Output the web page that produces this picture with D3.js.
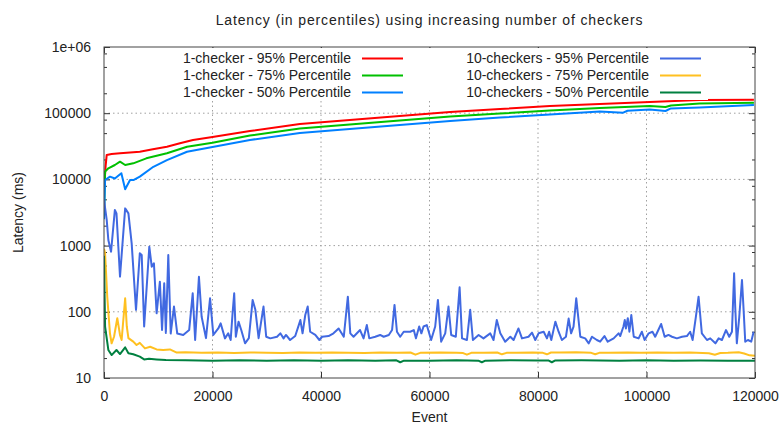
<!DOCTYPE html>
<html>
<head>
<meta charset="utf-8">
<script src="https://cdn.jsdelivr.net/npm/d3@7"></script>
<style>
  body { margin: 0; background: #fff; }
  text { font-family: "Liberation Sans", Arial, sans-serif; fill: #222; }
</style>
</head>
<body>
<div id="chart"></div>
<script>
// ---- data (event, latency in ms) ----
var seriesNames = [
  "1-checker - 95% Percentile", "1-checker - 75% Percentile", "1-checker - 50% Percentile",
  "10-checkers - 95% Percentile", "10-checkers - 75% Percentile", "10-checkers - 50% Percentile"
];
var seriesColors = ["#ff0000", "#00c000", "#0080ff", "#4169e1", "#ffc020", "#008040"];

var one95 = [[0, 7000], [300, 16000], [500, 23400], [1400, 24100], [2950, 24800], [4800, 25500],
  [6600, 26200], [9000, 28500], [11600, 31200], [14000, 35100], [16400, 39400], [20000, 43700],
  [26900, 53800], [36100, 68700], [45300, 78900], [54500, 90700], [63800, 104000], [73000, 115700],
  [82200, 128500], [91400, 137800], [100600, 147500], [109800, 158000], [119800, 160000]];

var one75 = [[0, 3000], [200, 13100], [800, 14700], [2000, 16500], [2950, 18500], [3900, 16500],
  [5400, 17500], [7800, 20800], [11600, 24800], [15300, 31200], [20000, 35800], [26900, 46000],
  [36100, 58800], [45300, 67500], [54500, 77600], [63800, 89200], [73000, 99000], [82200, 110000],
  [91400, 120000], [100600, 128500], [103500, 124000], [104500, 131000], [109800, 140000], [119800, 144000]];

var one50 = [[0, 2500], [200, 9800], [1100, 11000], [2000, 10300], [3200, 12400], [3900, 7080],
  [4800, 9800], [5500, 9800], [6600, 11000], [9100, 15500], [11600, 19600], [15300, 26200],
  [20000, 30800], [26900, 39400], [36100, 50200], [45300, 57700], [54500, 66400], [63800, 76200],
  [73000, 86100], [82200, 95500], [91400, 106000], [95700, 102000], [96500, 109000], [100600, 113700],
  [103500, 108000], [104500, 118000], [109800, 122000], [119800, 133000]];

var ten95 = [[0, 4900], [500, 2440], [800, 1215], [1300, 810], [2000, 3450], [2300, 3070], [2950, 340],
  [3900, 3650], [4500, 3070], [5100, 1080], [5900, 107], [6600, 764], [6950, 721], [7400, 60],
  [8350, 964], [8800, 481], [9200, 540], [9700, 95], [10300, 285], [10700, 53], [11100, 269],
  [11400, 48], [11850, 721], [12300, 47], [12900, 120], [13500, 47], [14600, 44.7], [15700, 53],
  [16350, 190], [16800, 37.5], [17500, 339], [18000, 84], [18800, 40], [19550, 160], [20150, 44.7],
  [21070, 56], [21500, 67], [22300, 39.7], [22900, 47.3], [23350, 37.5], [23700, 95], [24000, 190],
  [24300, 42], [24800, 71], [25300, 53], [26000, 33.4], [26700, 40], [27400, 151], [27900, 107],
  [28500, 40], [29400, 120], [29900, 42], [30650, 39.7], [31900, 42], [32500, 47.3], [33100, 39.7],
  [33550, 44.7], [34300, 37.5], [35250, 43], [36200, 75], [36600, 47.3], [37100, 89.5], [37550, 120],
  [38000, 50], [38950, 44.7], [39700, 37.5], [40200, 42], [41400, 43], [42300, 47.3], [43250, 56],
  [44200, 42], [44950, 169], [45400, 47.3], [46000, 42], [47200, 53], [47850, 39.7], [48450, 63],
  [48900, 39.7], [50000, 42], [50900, 44.7], [51550, 42], [52500, 44.7], [53100, 53], [53550, 127],
  [54000, 50], [54600, 42], [55250, 50], [56450, 50], [57100, 53], [57500, 39.7], [58100, 60],
  [58500, 47.3], [58900, 60], [59500, 63], [60300, 37.5], [61050, 60], [61550, 151], [62150, 35.4],
  [62900, 47.3], [63500, 120], [64000, 44.7], [64850, 42], [65550, 234], [66000, 39.7], [66900, 37.5],
  [67500, 107], [68000, 37.5], [69050, 44.7], [69950, 39.7], [71200, 47.3], [71800, 37.5], [72400, 75],
  [73050, 47.3], [73950, 35.4], [74900, 42], [75500, 37.5], [76400, 56], [77050, 39.7], [78250, 42],
  [78900, 48.4], [79500, 37.5], [80100, 47.3], [81050, 50], [81650, 39.7], [82050, 50], [82450, 37.5],
  [83200, 71], [83800, 50], [84400, 37.5], [85150, 42], [85650, 79], [86100, 47.3], [86550, 59.6],
  [87050, 160], [87800, 42], [88700, 39.7], [89350, 33.4], [89950, 42], [90850, 37.5], [91450, 35.4],
  [92250, 43], [92850, 35.4], [93950, 39.7], [94850, 47.3], [95150, 43], [95750, 60], [96000, 75],
  [96200, 56], [96550, 80], [96850, 50], [97200, 89.5], [97650, 42], [98550, 39.7], [99150, 50],
  [99650, 37.5], [100400, 47.3], [101100, 50], [101600, 42], [102700, 65.5], [103350, 42],
  [104050, 44.7], [104700, 42], [105600, 39.7], [106550, 42], [107450, 43], [108050, 50], [108500, 37.5],
  [109100, 84], [109600, 169], [110200, 47.3], [111150, 37.5], [111750, 39.7], [112700, 33.4],
  [113300, 39.7], [113900, 37.5], [114650, 53], [115250, 42], [115750, 50], [116150, 381], [116350, 120],
  [116650, 33.4], [117100, 84], [117600, 302], [117900, 107], [118200, 35.4], [118700, 37.5],
  [119300, 35.4], [119750, 50]];

var ten75 = [[0, 900], [200, 764], [600, 169], [1100, 47], [1400, 33.4], [1850, 42], [2450, 80],
  [2950, 44.7], [3250, 37.5], [3900, 160], [4200, 60], [4500, 40], [5400, 35.4], [6000, 31.5],
  [6600, 34], [7550, 28], [8500, 29.7], [9700, 27], [10900, 26.5], [12150, 27], [13400, 24.2],
  [15000, 24.5], [18000, 24], [21000, 24.2], [24000, 23.8], [27000, 24.3], [30000, 24], [33000, 23.8],
  [36000, 24.2], [39000, 24], [42000, 24.3], [45000, 24], [48000, 23.8], [51000, 24.2], [54000, 24],
  [56500, 24.3], [57400, 22.5], [58300, 24], [62000, 24.2], [65000, 24], [66200, 23.8], [66900, 22.5],
  [67700, 24], [70000, 24], [72500, 24.3], [73350, 22.8], [74200, 24], [76000, 24], [79000, 24.2],
  [80900, 24], [81650, 22.8], [82400, 24.3], [84000, 24.3], [87000, 24.5], [89800, 24], [90550, 22.8],
  [91300, 24], [93000, 24], [96500, 24.3], [99000, 24], [102000, 24.3], [105000, 24], [108000, 24.2],
  [111500, 23.6], [112600, 22.5], [113600, 23.8], [115000, 24], [117000, 24.5], [118000, 23.5],
  [119000, 22], [120000, 21.7]];

var ten50 = [[0, 700], [200, 59.6], [800, 26.5], [1400, 22.2], [2300, 26.5], [2950, 23], [3900, 29],
  [4500, 23.6], [5400, 22.8], [6600, 21], [7400, 19.1], [8300, 19.5], [9700, 19.1], [11400, 18.7],
  [15000, 18.5], [20000, 18.3], [25000, 18.5], [30000, 18.3], [35000, 18.5], [40000, 18.3],
  [45000, 18.5], [50000, 18.3], [53900, 18.5], [54600, 17.3], [55300, 18.3], [60000, 18.3],
  [65000, 18.5], [69000, 18.3], [69650, 17.3], [70300, 18.3], [75000, 18.5], [80000, 18.4],
  [81900, 18.4], [82550, 17.3], [83200, 18.4], [88000, 18.5], [95000, 18.3], [100000, 18.5],
  [105000, 18.3], [110000, 18.4], [115000, 18.3], [120000, 18.2]];

var allSeries = [one95, one75, one50, ten95, ten75, ten50];

var xTicks = [0, 20000, 40000, 60000, 80000, 100000, 120000];
var yTicks = [10, 100, 1000, 10000, 100000, 1000000];
var yTickLabels = ["10", "100", "1000", "10000", "100000", "1e+06"];
var yMinor = [20, 50, 80, 200, 500, 800, 2000, 5000, 8000, 20000, 50000, 80000, 200000, 500000, 800000];

// ---- layout ----
var W = 779, H = 425;
var margin = {top: 47, right: 24, bottom: 47, left: 104};
var width = W - margin.left - margin.right;
var height = H - margin.top - margin.bottom;

var svg = d3.select("#chart").append("svg")
  .attr("width", W)
  .attr("height", H);

var g = svg.append("g")
  .attr("transform", "translate(" + margin.left + "," + margin.top + ")");

var x = d3.scaleLinear().domain([0, 120000]).range([0, width]);
var y = d3.scaleLog().domain([10, 1000000]).range([height, 0]);

// grid
g.append("g").selectAll("line")
  .data(xTicks.slice(1, -1))
  .enter().append("line")
  .attr("x1", d => x(d)).attr("x2", d => x(d))
  .attr("y1", 0).attr("y2", height)
  .attr("stroke", "#a0a0a0").attr("stroke-dasharray", "1.5,3");

g.append("g").selectAll("line")
  .data(yTicks.slice(1, -1))
  .enter().append("line")
  .attr("y1", d => y(d)).attr("y2", d => y(d))
  .attr("x1", 0).attr("x2", width)
  .attr("stroke", "#a0a0a0").attr("stroke-dasharray", "1.5,3");

// axes (ticks point inward, gnuplot style)
var yAxis = d3.axisLeft(y).tickValues(yTicks)
  .tickFormat((d, i) => yTickLabels[i]).tickSize(-6).tickPadding(13);
var yAxisR = d3.axisRight(y).tickValues(yTicks).tickFormat("").tickSize(-6);
var yMinorL = d3.axisLeft(y).tickValues(yMinor).tickFormat("").tickSize(-3);
var yMinorR = d3.axisRight(y).tickValues(yMinor).tickFormat("").tickSize(-3);
var xAxis = d3.axisBottom(x).tickValues(xTicks).tickFormat(d3.format("d")).tickSize(-6).tickPadding(13);
var xAxisT = d3.axisTop(x).tickValues(xTicks).tickFormat("").tickSize(-6);

function styleAxis(sel) {
  sel.select(".domain").remove();
  sel.selectAll(".tick line").attr("stroke", "#333");
  sel.selectAll(".tick text").style("font-size", "14px").attr("fill", "#222");
}

g.append("g").call(yAxis).call(styleAxis);
g.append("g").attr("transform", "translate(" + width + ",0)").call(yAxisR).call(styleAxis);
g.append("g").call(yMinorL).call(styleAxis);
g.append("g").attr("transform", "translate(" + width + ",0)").call(yMinorR).call(styleAxis);
g.append("g").attr("transform", "translate(0," + height + ")").call(xAxis).call(styleAxis);
g.append("g").call(xAxisT).call(styleAxis);

// series
svg.append("defs").append("clipPath").attr("id", "plotclip")
  .append("rect").attr("width", width).attr("height", height);

var line = d3.line()
  .x(d => x(d[0]))
  .y(d => y(d[1]));

g.append("g").attr("clip-path", "url(#plotclip)")
  .selectAll("path")
  .data(allSeries)
  .enter().append("path")
  .attr("d", line)
  .attr("fill", "none")
  .attr("stroke", (d, i) => seriesColors[i])
  .attr("stroke-width", 2)
  .attr("stroke-linejoin", "round");

// key (opaque, hides grid)
var key = g.append("g");
key.append("rect")
  .attr("x", 74).attr("y", 1)
  .attr("width", 530).attr("height", 52)
  .attr("fill", "#fff");

var keyCols = [{textX: 247, lineX: 258}, {textX: 545, lineX: 556}];
seriesNames.forEach(function(name, i) {
  var col = keyCols[Math.floor(i / 3)];
  var ky = 11.5 + (i % 3) * 17;
  key.append("text")
    .attr("x", col.textX).attr("y", ky)
    .attr("dy", "0.35em")
    .attr("text-anchor", "end")
    .style("font-size", "14px")
    .text(name);
  key.append("line")
    .attr("x1", col.lineX).attr("x2", col.lineX + 41)
    .attr("y1", ky).attr("y2", ky)
    .attr("stroke", seriesColors[i]).attr("stroke-width", 2);
});

// border
g.append("rect")
  .attr("width", width).attr("height", height)
  .attr("fill", "none").attr("stroke", "#444").attr("stroke-width", 1);

// titles
svg.append("text")
  .attr("x", margin.left + width / 2).attr("y", 20)
  .attr("dy", "0.35em")
  .attr("text-anchor", "middle")
  .style("font-size", "14px")
  .style("letter-spacing", "0.85px")
  .text("Latency (in percentiles) using increasing number of checkers");

svg.append("text")
  .attr("x", margin.left + width / 2).attr("y", 417)
  .attr("dy", "0.35em")
  .attr("text-anchor", "middle")
  .style("font-size", "14px")
  .text("Event");

svg.append("text")
  .attr("transform", "translate(18," + (margin.top + height / 2) + ") rotate(-90)")
  .attr("dy", "0.35em")
  .attr("text-anchor", "middle")
  .style("font-size", "14px")
  .text("Latency (ms)");
</script>
</body>
</html>
